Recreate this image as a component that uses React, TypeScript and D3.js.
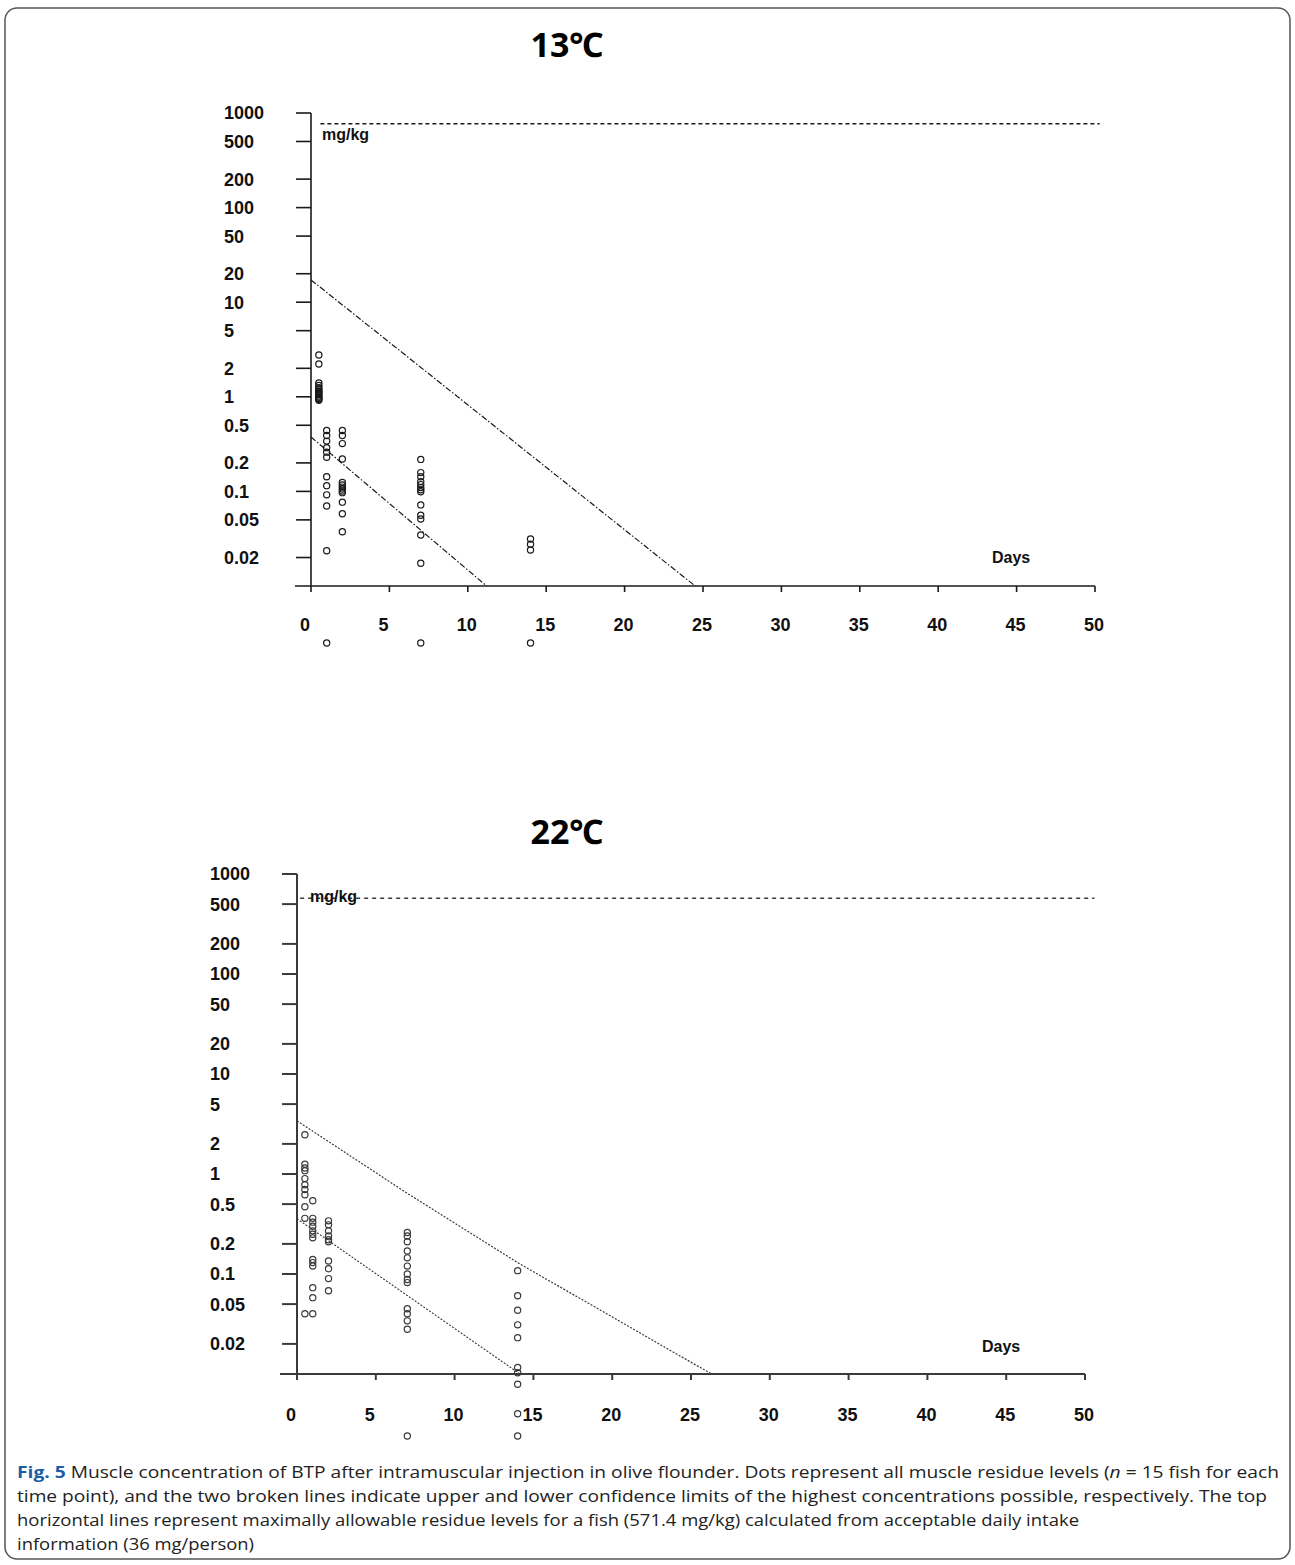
import React from "react";
import * as d3 from "d3";

// ---------- data ----------
const sampleDays = [0.5, 1, 2, 7, 14];

// 13 °C muscle residue levels (mg/kg) per sampling day
const conc13_d05 = [2.77, 2.22, 1.4, 1.32, 1.25, 1.2, 1.15, 1.1, 1.06, 1.02, 0.99, 0.96, 0.94, 0.92, 1.12];
const conc13_d1 = [0.44, 0.39, 0.34, 0.29, 0.26, 0.23, 0.143, 0.115, 0.092, 0.07, 0.0236, 0.0025];
const conc13_d2 = [0.44, 0.39, 0.32, 0.22, 0.124, 0.117, 0.111, 0.106, 0.101, 0.097, 0.077, 0.058, 0.0375];
const conc13_d7 = [0.218, 0.158, 0.143, 0.127, 0.118, 0.11, 0.104, 0.099, 0.072, 0.056, 0.051, 0.0346, 0.0174, 0.0025];
const conc13_d14 = [0.0314, 0.0276, 0.024, 0.0025];

// 22 °C muscle residue levels (mg/kg)
const conc22_d05 = [2.47, 1.25, 1.15, 1.08, 0.9, 0.78, 0.7, 0.62, 0.47, 0.36, 0.04];
const conc22_d1 = [0.54, 0.36, 0.33, 0.3, 0.27, 0.25, 0.23, 0.14, 0.13, 0.12, 0.073, 0.058, 0.04];
const conc22_d2 = [0.34, 0.31, 0.27, 0.24, 0.22, 0.21, 0.135, 0.113, 0.09, 0.068];
const conc22_d7 = [0.26, 0.24, 0.21, 0.17, 0.145, 0.12, 0.1, 0.088, 0.082, 0.045, 0.04, 0.034, 0.028, 0.0024];
const conc22_d14 = [0.108, 0.0605, 0.0434, 0.031, 0.0231, 0.0116, 0.0103, 0.0079, 0.004, 0.0024];

// confidence-limit lines [day, mg/kg]
const upper13: [number, number][] = [[0, 17.2], [24.5, 0.01]];
const lower13: [number, number][] = [[0, 0.376], [11.2, 0.01]];
const upper22: [number, number][] = [[0, 3.4], [7, 0.64], [14, 0.13], [26.3, 0.01]];
const lower22: [number, number][] = [[0, 0.357], [14.15, 0.01]];

// maximally allowable residue level lines (mg/kg)
const mrl13 = 770;
const mrl22 = 571.4;

const yTickValues = [1000, 500, 200, 100, 50, 20, 10, 5, 2, 1, 0.5, 0.2, 0.1, 0.05, 0.02];
const xTickValues = [0, 5, 10, 15, 20, 25, 30, 35, 40, 45, 50];

const captionLines = [
  "Muscle concentration of BTP after intramuscular injection in olive flounder. Dots represent all muscle residue levels (",
  "time point), and the two broken lines indicate upper and lower confidence limits of the highest concentrations possible, respectively. The top",
  "horizontal lines represent maximally allowable residue levels for a fish (571.4 mg/kg) calculated from acceptable daily intake",
  "information (36 mg/person)",
];

// ---------- panel ----------
type PanelProps = {
  title: string;
  titleY: number;
  x0: number; x50: number; yTop: number; yBot: number; axisStart: number;
  groups: number[][];
  upper: [number, number][];
  lower: [number, number][];
  mrl: number;
  mrlFrom: number; mrlTo: number;
  mgX: number;
  daysX: number; daysY: number;
  xLabelY: number;
  style: "dash" | "dot";
};

function Panel(p: PanelProps) {
  const x = d3.scaleLinear().domain([0, 50]).range([p.x0, p.x50]);
  const y = d3.scaleLog().domain([0.01, 1000]).range([p.yBot, p.yTop]);
  const line = d3.line<[number, number]>().x((d) => x(d[0])).y((d) => y(d[1]));
  const ink = p.style === "dash" ? "#1a1a1a" : "#3a3a3a";
  const ciDash = p.style === "dash" ? "6 2 1.5 2" : "2 1.5";
  const mrlDash = p.style === "dash" ? "4 3" : "4 4";
  const axisW = p.style === "dash" ? 1.6 : 2;
  const labelFont = "'Liberation Sans', Arial, sans-serif";
  return (
    <g>
      <text x={567} y={p.titleY} textAnchor="middle" fontFamily="'Open Sans', 'Noto Sans', sans-serif" fontWeight={700} fontSize={34} fill="#000">{p.title}</text>
      {/* y axis */}
      <line x1={p.x0} x2={p.x0} y1={y(1000)} y2={y(0.01)} stroke={ink} strokeWidth={axisW} />
      {yTickValues.map((v) => (
        <line key={"yt" + v} x1={p.x0 - 15} x2={p.x0} y1={y(v)} y2={y(v)} stroke={ink} strokeWidth={axisW} />
      ))}
      {yTickValues.map((v) => (
        <text key={"yl" + v} x={p.x0 - 87} y={y(v)} dy="0.36em" fontFamily={labelFont} fontWeight={700} fontSize={18} fill="#111">{String(v)}</text>
      ))}
      {/* x axis */}
      <line x1={p.axisStart} x2={x(50)} y1={y(0.01)} y2={y(0.01)} stroke={ink} strokeWidth={axisW} />
      {xTickValues.map((v) => (
        <line key={"xt" + v} x1={x(v)} x2={x(v)} y1={y(0.01)} y2={y(0.01) + 6} stroke={ink} strokeWidth={axisW} />
      ))}
      {xTickValues.map((v) => (
        <text key={"xl" + v} x={x(v) - 11} y={p.xLabelY} fontFamily={labelFont} fontWeight={700} fontSize={18} fill="#111">{String(v)}</text>
      ))}
      <text x={p.daysX} y={p.daysY} fontFamily={labelFont} fontWeight={700} fontSize={16} fill="#111">Days</text>
      {/* MRL line */}
      <line x1={x(p.mrlFrom)} x2={x(p.mrlTo)} y1={y(p.mrl)} y2={y(p.mrl)} stroke={ink} strokeWidth={1.5} strokeDasharray={mrlDash} />
      <text x={p.mgX} y={y(p.mrl) + (p.style === "dash" ? 16 : 4)} fontFamily={labelFont} fontWeight={700} fontSize={16} fill="#111">mg/kg</text>
      {/* confidence lines */}
      <path d={line(p.upper) || ""} fill="none" stroke={ink} strokeWidth={1.2} strokeDasharray={ciDash} />
      <path d={line(p.lower) || ""} fill="none" stroke={ink} strokeWidth={1.2} strokeDasharray={ciDash} />
      {/* points */}
      {p.groups.map((vals, gi) =>
        vals.map((v, i) => (
          <circle key={gi + "-" + i} cx={x(sampleDays[gi])} cy={y(v)} r={3.1} fill="none" stroke={ink} strokeWidth={1.2} />
        ))
      )}
    </g>
  );
}

export default function App() {
  return (
    <svg width={1295} height={1565} style={{ position: "absolute", left: 0, top: 0, background: "#fff" }}>
      <rect x={5} y={8} width={1285} height={1551} rx={12} fill="#fff" stroke="#555" strokeWidth={1.5} />
      <Panel
        title="13℃" titleY={57}
        x0={311} x50={1095} yTop={113} yBot={586} axisStart={295}
        groups={[conc13_d05, conc13_d1, conc13_d2, conc13_d7, conc13_d14]}
        upper={upper13} lower={lower13}
        mrl={mrl13} mrlFrom={0.6} mrlTo={50.3} mgX={322}
        daysX={992} daysY={563} xLabelY={631}
        style="dash"
      />
      <Panel
        title="22℃" titleY={844}
        x0={297} x50={1085} yTop={874} yBot={1374} axisStart={280}
        groups={[conc22_d05, conc22_d1, conc22_d2, conc22_d7, conc22_d14]}
        upper={upper22} lower={lower22}
        mrl={mrl22} mrlFrom={0.2} mrlTo={50.6} mgX={310}
        daysX={982} daysY={1352} xLabelY={1421}
        style="dot"
      />
      <g fontFamily="'Open Sans', 'Noto Sans', sans-serif" fontSize={15.5} fill="#222">
        <text x={17} y={1478} textLength={1262} lengthAdjust="spacingAndGlyphs">
          <tspan fontWeight={700} fill="#1a5ea8">Fig. 5</tspan>
          <tspan> {captionLines[0]}</tspan>
          <tspan fontStyle="italic">n</tspan>
          <tspan> = 15 fish for each</tspan>
        </text>
        <text x={17} y={1502} textLength={1250} lengthAdjust="spacingAndGlyphs">{captionLines[1]}</text>
        <text x={17} y={1526} textLength={1062} lengthAdjust="spacingAndGlyphs">{captionLines[2]}</text>
        <text x={17} y={1550} textLength={237} lengthAdjust="spacingAndGlyphs">{captionLines[3]}</text>
      </g>
    </svg>
  );
}
